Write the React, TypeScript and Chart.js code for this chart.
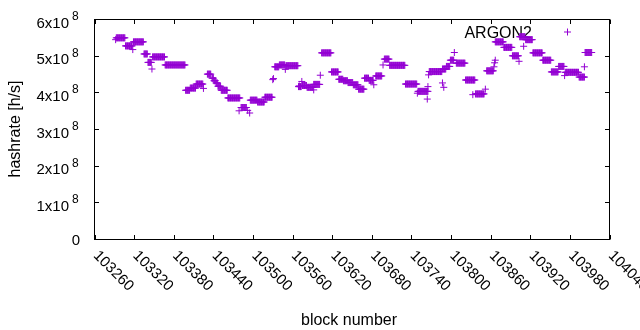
import React, { useEffect, useRef } from "react";
import { Chart, registerables } from "chart.js";

Chart.register(...registerables);

// ---- data (hashrate in units of 1e8 h/s) ----
const legendLabel = "ARGON2";
const xTitle = "block number";
const yTitle = "hashrate [h/s]";
const xTicks = [103260, 103320, 103380, 103440, 103500, 103560, 103620, 103680, 103740, 103800, 103860, 103920, 103980, 104040];
const yTicks = [0, 1, 2, 3, 4, 5, 6];
const yTickMantissa = ["0", "1x10", "2x10", "3x10", "4x10", "5x10", "6x10"];
const yTickExponent = ["", "8", "8", "8", "8", "8", "8"];

// flat runs of blocks that share one hashrate reading
const segStart = [103293, 103307, 103319, 103335, 103341, 103348, 103367, 103398, 103405, 103414, 103431, 103438, 103441, 103444, 103447, 103452, 103462, 103482, 103496, 103507, 103518, 103533, 103540, 103550, 103569, 103575, 103582, 103592, 103604, 103619, 103630, 103637, 103644, 103652, 103660, 103669, 103676, 103686, 103699, 103707, 103731, 103750, 103767, 103787, 103793, 103799, 103808, 103822, 103837, 103854, 103867, 103880, 103893, 103904, 103913, 103924, 103939, 103952, 103963, 103973, 103994, 104003];
const segEnd = [103306, 103317, 103334, 103340, 103346, 103366, 103397, 103404, 103413, 103424, 103436, 103440, 103443, 103446, 103451, 103461, 103480, 103490, 103506, 103517, 103529, 103539, 103548, 103568, 103573, 103581, 103591, 103601, 103618, 103629, 103636, 103643, 103651, 103659, 103668, 103675, 103682, 103695, 103706, 103730, 103748, 103765, 103786, 103792, 103798, 103804, 103821, 103836, 103850, 103864, 103879, 103892, 103902, 103912, 103923, 103938, 103951, 103962, 103971, 103993, 104002, 104013];
const segRate = [5.50, 5.28, 5.39, 5.06, 4.83, 4.98, 4.76, 4.07, 4.13, 4.24, 4.51, 4.40, 4.33, 4.27, 4.18, 4.07, 3.86, 3.60, 3.80, 3.75, 3.88, 4.71, 4.76, 4.74, 4.17, 4.20, 4.15, 4.23, 5.09, 4.57, 4.37, 4.33, 4.28, 4.22, 4.10, 4.40, 4.34, 4.46, 4.92, 4.75, 4.24, 4.04, 4.58, 4.65, 4.72, 4.89, 4.81, 4.35, 3.97, 4.60, 5.39, 5.24, 5.01, 5.53, 5.45, 5.09, 4.89, 4.57, 4.72, 4.56, 4.43, 5.10];

// isolated readings
const singleBlock = [103292, 103318, 103347, 103425, 103479, 103492, 103495, 103530, 103531, 103549, 103570, 103574, 103592, 103602, 103683, 103697, 103749, 103764, 103765, 103766, 103787, 103789, 103805, 103833, 103852, 103865, 103866, 103867, 103903, 103910, 103972, 104002];
const singleRate = [5.45, 5.18, 4.65, 4.12, 3.51, 3.52, 3.45, 4.36, 4.39, 4.64, 4.19, 4.31, 4.08, 4.48, 4.22, 4.76, 3.99, 3.83, 4.17, 4.49, 4.27, 4.15, 5.10, 3.95, 4.10, 4.71, 4.82, 4.89, 4.86, 5.27, 4.47, 4.71];

const PURPLE = "#9400D3";
const FONT = '"Liberation Sans", Arial, Helvetica, sans-serif';

function buildPoints() {
  const pts: { x: number; y: number }[] = [];
  for (let i = 0; i < segStart.length; i++) {
    for (let b = segStart[i]; b <= segEnd[i]; b++) pts.push({ x: b, y: segRate[i] });
  }
  for (let i = 0; i < singleBlock.length; i++) pts.push({ x: singleBlock[i], y: singleRate[i] });
  return pts;
}

function drawCross(ctx: CanvasRenderingContext2D, x: number, y: number, r: number) {
  ctx.beginPath();
  ctx.moveTo(x - r, y);
  ctx.lineTo(x + r, y);
  ctx.moveTo(x, y - r);
  ctx.lineTo(x, y + r);
  ctx.stroke();
}

const gnuplotFrame = {
  id: "gnuplotFrame",
  beforeDatasetsDraw(chart: any) {
    const { ctx } = chart;
    ctx.save();
    ctx.fillStyle = "#000";
    ctx.font = `16px ${FONT}`;
    ctx.textAlign = "right";
    ctx.textBaseline = "alphabetic";
    ctx.fillText(legendLabel, 532, 37.5);
    ctx.strokeStyle = PURPLE;
    ctx.lineWidth = 1;
    drawCross(ctx, 567.5, 32, 3.5);
    ctx.restore();
  },
  afterDraw(chart: any) {
    const { ctx, chartArea, scales } = chart;
    const { left, right, top, bottom } = chartArea;
    const xs = scales.x;
    const ys = scales.y;
    ctx.save();
    ctx.strokeStyle = "#000";
    ctx.lineWidth = 1;
    ctx.strokeRect(left, top, right - left, bottom - top);
    const tl = 4.5;
    ctx.beginPath();
    xTicks.forEach((t) => {
      const px = Math.round(xs.getPixelForValue(t)) + 0.5;
      ctx.moveTo(px, bottom);
      ctx.lineTo(px, bottom - tl);
      ctx.moveTo(px, top);
      ctx.lineTo(px, top + tl);
    });
    yTicks.forEach((t) => {
      const py = Math.round(ys.getPixelForValue(t) - 0.5) + 0.5;
      ctx.moveTo(left, py);
      ctx.lineTo(left + tl, py);
      ctx.moveTo(right, py);
      ctx.lineTo(right - tl, py);
    });
    ctx.stroke();

    ctx.fillStyle = "#000";
    // y tick labels
    yTicks.forEach((t, i) => {
      const py = ys.getPixelForValue(t);
      ctx.textBaseline = "alphabetic";
      if (!yTickExponent[i]) {
        ctx.font = `15px ${FONT}`;
        ctx.textAlign = "right";
        ctx.fillText(yTickMantissa[i], 80, py + 5.4);
      } else {
        ctx.font = `15px ${FONT}`;
        ctx.textAlign = "right";
        ctx.fillText(yTickMantissa[i], 69, py + 8);
        ctx.font = `12px ${FONT}`;
        ctx.textAlign = "left";
        ctx.fillText(yTickExponent[i], 72, py + 0.5);
      }
    });
    // x tick labels, rotated clockwise
    ctx.font = `15px ${FONT}`;
    ctx.textAlign = "left";
    ctx.textBaseline = "alphabetic";
    xTicks.forEach((t) => {
      const px = xs.getPixelForValue(t);
      ctx.save();
      ctx.translate(px + 2, 252.5);
      ctx.rotate(Math.PI / 4);
      ctx.fillText(String(t), 0, 5.4);
      ctx.restore();
    });
    // axis titles
    ctx.font = `16px ${FONT}`;
    ctx.textAlign = "center";
    ctx.fillText(xTitle, 349, 324.5);
    ctx.save();
    ctx.translate(20, 129);
    ctx.rotate(-Math.PI / 2);
    ctx.fillText(yTitle, 0, 0);
    ctx.restore();
    ctx.restore();
  },
};

export default function App() {
  const ref = useRef<HTMLCanvasElement | null>(null);
  useEffect(() => {
    document.body.style.margin = "0";
    const canvas = ref.current;
    if (!canvas) return;
    const chart = new Chart(canvas, {
      type: "scatter",
      data: {
        datasets: [
          {
            label: legendLabel,
            data: buildPoints(),
            pointStyle: "cross",
            pointRadius: 3.5,
            pointHoverRadius: 3.5,
            borderColor: PURPLE,
            backgroundColor: PURPLE,
            borderWidth: 1,
          },
        ],
      },
      options: {
        animation: false,
        responsive: false,
        devicePixelRatio: 1,
        events: [],
        layout: { padding: { left: 94.5, right: 30.5, top: 19.5, bottom: 90.5 } },
        plugins: { legend: { display: false }, tooltip: { enabled: false } },
        scales: {
          x: { type: "linear", min: 103260, max: 104040, display: false },
          y: { type: "linear", min: 0, max: 6, display: false },
        },
      },
      plugins: [gnuplotFrame],
    });
    return () => chart.destroy();
  }, []);
  return (
    <div style={{ width: 640, height: 330, background: "#fff" }}>
      <canvas ref={ref} width={640} height={330} style={{ display: "block" }} />
    </div>
  );
}
